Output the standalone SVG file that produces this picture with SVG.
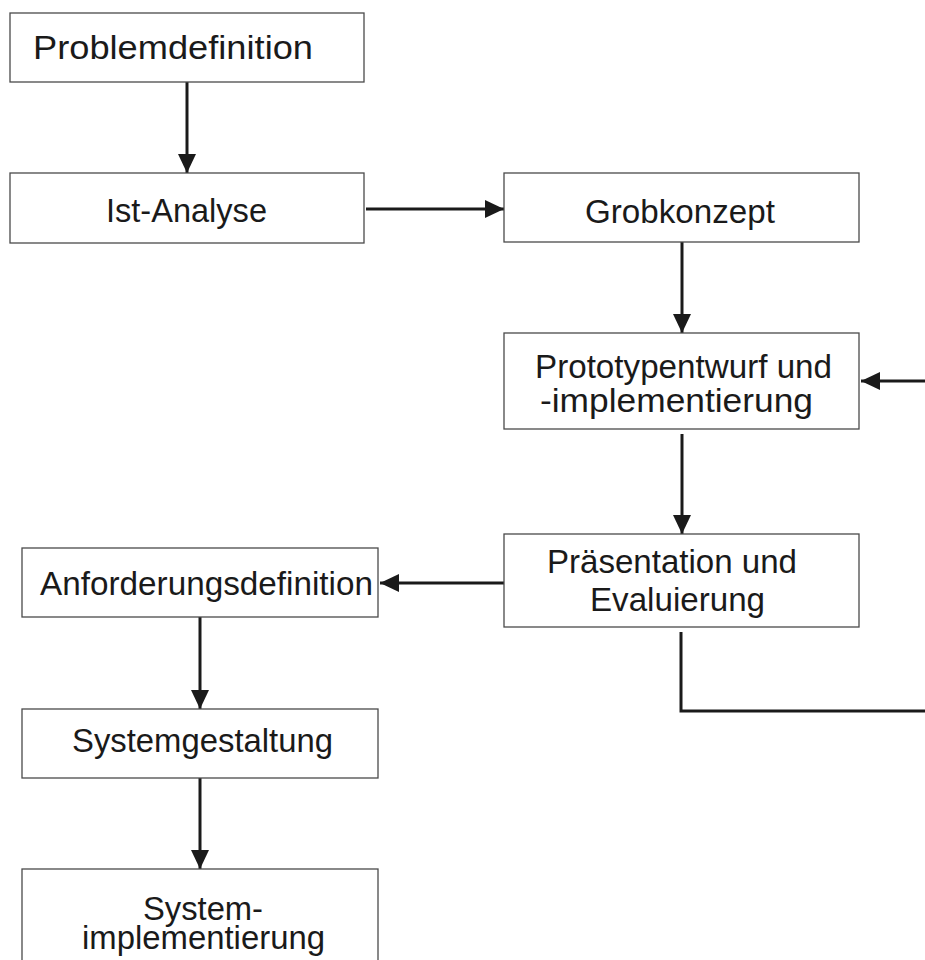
<svg xmlns="http://www.w3.org/2000/svg" width="925" height="960" viewBox="0 0 925 960">
  <style>
    .box { fill: #ffffff; stroke: #4a4a4a; stroke-width: 1.3; }
    .lbl { font-family: "Liberation Sans", Arial, sans-serif; font-size: 34px; fill: #1a1a1a; }
    .conn { fill: none; stroke: #1a1a1a; stroke-width: 3; }
  </style>
  <defs>
    <marker id="arrow" markerUnits="userSpaceOnUse" markerWidth="20" markerHeight="20" refX="19" refY="10" orient="auto">
      <path d="M0,1 L19,10 L0,19 z" fill="#1a1a1a"/>
    </marker>
  </defs>
  <rect width="925" height="960" fill="#ffffff"/>

  <g id="connectors">
    <line class="conn" x1="187" y1="82" x2="187" y2="173" marker-end="url(#arrow)"/>
    <line class="conn" x1="366" y1="209" x2="504" y2="209" marker-end="url(#arrow)"/>
    <line class="conn" x1="682" y1="242" x2="682" y2="333" marker-end="url(#arrow)"/>
    <line class="conn" x1="682" y1="434" x2="682" y2="534" marker-end="url(#arrow)"/>
    <line class="conn" x1="504" y1="583" x2="380" y2="583" marker-end="url(#arrow)"/>
    <line class="conn" x1="200" y1="617" x2="200" y2="709" marker-end="url(#arrow)"/>
    <line class="conn" x1="200" y1="778" x2="200" y2="869" marker-end="url(#arrow)"/>
    <path class="conn" d="M681,632 L681,711 L925,711"/>
    <line class="conn" x1="925" y1="381" x2="861" y2="381" marker-end="url(#arrow)"/>
  </g>

  <g id="problemdefinition">
    <rect class="box" x="10" y="13" width="354" height="69"/>
    <text class="lbl" x="33" y="59" textLength="280" lengthAdjust="spacingAndGlyphs">Problemdefinition</text>
  </g>
  <g id="ist-analyse">
    <rect class="box" x="10" y="173" width="354" height="70"/>
    <text class="lbl" x="106" y="222" textLength="161" lengthAdjust="spacingAndGlyphs">Ist-Analyse</text>
  </g>
  <g id="grobkonzept">
    <rect class="box" x="504" y="173" width="355" height="69"/>
    <text class="lbl" x="585" y="223" textLength="190" lengthAdjust="spacingAndGlyphs">Grobkonzept</text>
  </g>
  <g id="prototyp">
    <rect class="box" x="504" y="333" width="355" height="96"/>
    <text class="lbl" x="535" y="378" textLength="297" lengthAdjust="spacingAndGlyphs">Prototypentwurf und</text>
    <text class="lbl" x="540" y="412" textLength="273" lengthAdjust="spacingAndGlyphs">-implementierung</text>
  </g>
  <g id="praesentation">
    <rect class="box" x="504" y="534" width="355" height="93"/>
    <text class="lbl" x="547" y="573" textLength="250" lengthAdjust="spacingAndGlyphs">Präsentation und</text>
    <text class="lbl" x="590" y="611" textLength="175" lengthAdjust="spacingAndGlyphs">Evaluierung</text>
  </g>
  <g id="anforderungsdefinition">
    <rect class="box" x="22" y="548" width="356" height="69"/>
    <text class="lbl" x="40" y="595" textLength="333" lengthAdjust="spacingAndGlyphs">Anforderungsdefinition</text>
  </g>
  <g id="systemgestaltung">
    <rect class="box" x="22" y="709" width="356" height="69"/>
    <text class="lbl" x="72" y="752" textLength="261" lengthAdjust="spacingAndGlyphs">Systemgestaltung</text>
  </g>
  <g id="systemimplementierung">
    <rect class="box" x="22" y="869" width="356" height="95"/>
    <text class="lbl" x="143" y="920" textLength="120" lengthAdjust="spacingAndGlyphs">System-</text>
    <text class="lbl" x="82" y="949" textLength="243" lengthAdjust="spacingAndGlyphs">implementierung</text>
  </g>
</svg>
